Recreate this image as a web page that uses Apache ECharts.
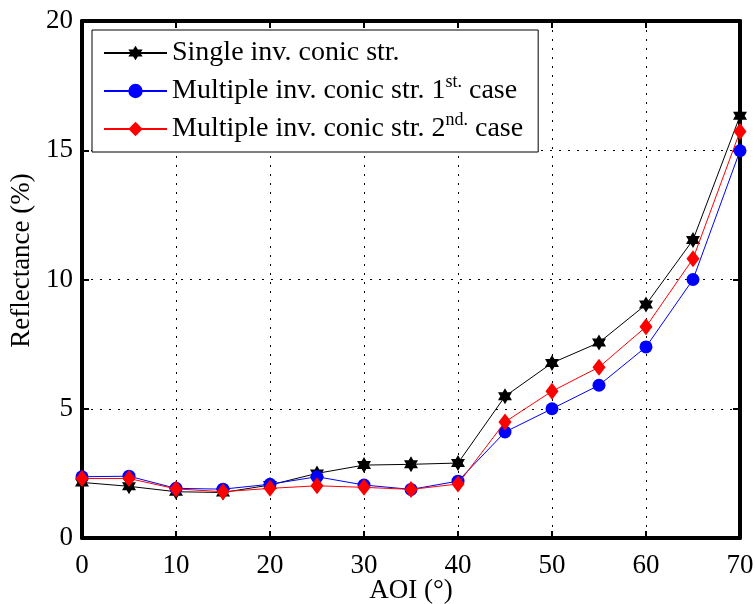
<!DOCTYPE html>
<html><head><meta charset="utf-8">
<script src="https://cdn.jsdelivr.net/npm/echarts@6/dist/echarts.min.js"></script>
<style>html,body{margin:0;padding:0;background:#fff}#c{width:756px;height:604px}</style>
</head><body><div id="c"></div>
<script>
const aoi = [0,5,10,15,20,25,30,35,40,45,50,55,60,65,70];
const single = [2.15,2.0,1.79,1.76,2.05,2.5,2.82,2.85,2.9,5.48,6.77,7.56,9.03,11.53,16.33];
const multi1 = [2.37,2.39,1.92,1.89,2.08,2.37,2.05,1.88,2.2,4.1,5.0,5.91,7.39,10.0,14.98];
const multi2 = [2.3,2.3,1.9,1.79,1.92,2.02,1.96,1.88,2.09,4.49,5.68,6.61,8.17,10.8,15.73];
const xTicks = {min:0,max:70,interval:10};
const yTicks = {min:0,max:20,interval:5};
const names = ['Single inv. conic str.','Multiple inv. conic str. 1st. case','Multiple inv. conic str. 2nd. case'];
const legendLabels = {
  [names[0]]: 'Single inv. conic str.',
  [names[1]]: 'Multiple inv. conic str. 1{sup|st.} case',
  [names[2]]: 'Multiple inv. conic str. 2{sup|nd.} case'
};

// hexagram symbol
let pts=[];
for(let k=0;k<12;k++){const a=(-90+30*k)*Math.PI/180;const r=k%2===0?1:0.5774;pts.push((r*Math.cos(a)).toFixed(4)+' '+(r*Math.sin(a)).toFixed(4));}
const hexagram='path://M'+pts.join(' L')+' Z';

const F='"Liberation Serif","Times New Roman",serif';
const pair=(ys)=>aoi.map((x,i)=>[x,ys[i]]);
const chart=echarts.init(document.getElementById('c'));
const dotted={show:true,lineStyle:{color:'#000',width:1,type:[2,7]}};
chart.setOption({
  animation:false,
  backgroundColor:'#fff',
  grid:{left:82,right:16,top:21,bottom:66,containLabel:false,outerBoundsMode:'none'},
  legend:{
    orient:'vertical',left:92,top:30,
    backgroundColor:'#fff',borderColor:'#000',borderWidth:1,
    padding:[5,15,5,11],itemGap:2,itemWidth:63,itemHeight:18,
    data:names,
    formatter:n=>legendLabels[n],
    textStyle:{fontFamily:F,fontSize:28,color:'#000',lineHeight:36,
      rich:{sup:{fontFamily:F,fontSize:18,color:'#000',verticalAlign:'top',lineHeight:2}}}
  },
  xAxis:[
    {type:'value',...xTicks,position:'bottom',
     name:'AOI (°)',nameLocation:'middle',nameGap:39,nameMoveOverlap:false,
     nameTextStyle:{fontFamily:F,fontSize:27,color:'#000'},
     axisLine:{show:true,onZero:false,lineStyle:{color:'#000',width:4}},
     axisTick:{show:true,inside:true,length:7,lineStyle:{color:'#000',width:2}},
     axisLabel:{fontFamily:F,fontSize:27,color:'#000',margin:14},
     splitLine:dotted},
    {type:'value',...xTicks,position:'top',
     axisLine:{show:true,onZero:false,lineStyle:{color:'#000',width:4}},
     axisTick:{show:true,inside:true,length:7,lineStyle:{color:'#000',width:2}},
     axisLabel:{show:false},splitLine:{show:false}}
  ],
  yAxis:[
    {type:'value',...yTicks,position:'left',
     name:'Reflectance (%)',nameLocation:'middle',nameGap:44,nameRotate:90,
     nameTextStyle:{fontFamily:F,fontSize:27,color:'#000',padding:[0,0,0,38]},
     axisLine:{show:true,onZero:false,lineStyle:{color:'#000',width:4}},
     axisTick:{show:true,inside:true,length:7,lineStyle:{color:'#000',width:2}},
     axisLabel:{fontFamily:F,fontSize:27,color:'#000',margin:9},
     splitLine:dotted},
    {type:'value',...yTicks,position:'right',
     axisLine:{show:true,onZero:false,lineStyle:{color:'#000',width:4}},
     axisTick:{show:true,inside:true,length:7,lineStyle:{color:'#000',width:2}},
     axisLabel:{show:false},splitLine:{show:false}}
  ],
  series:[
    {name:names[0],type:'line',data:pair(single),symbol:hexagram,symbolSize:[14,16],clip:false,z:3,
     lineStyle:{color:'#000',width:1},itemStyle:{color:'#000'}},
    {name:names[1],type:'line',data:pair(multi1),symbol:'circle',symbolSize:13,clip:false,z:4,
     lineStyle:{color:'#0000ff',width:1},itemStyle:{color:'#0000ff'}},
    {name:names[2],type:'line',data:pair(multi2),symbol:'diamond',symbolSize:[13,17],clip:false,z:5,
     lineStyle:{color:'#ff0000',width:1},itemStyle:{color:'#ff0000'}}
  ]
});
</script></body></html>
